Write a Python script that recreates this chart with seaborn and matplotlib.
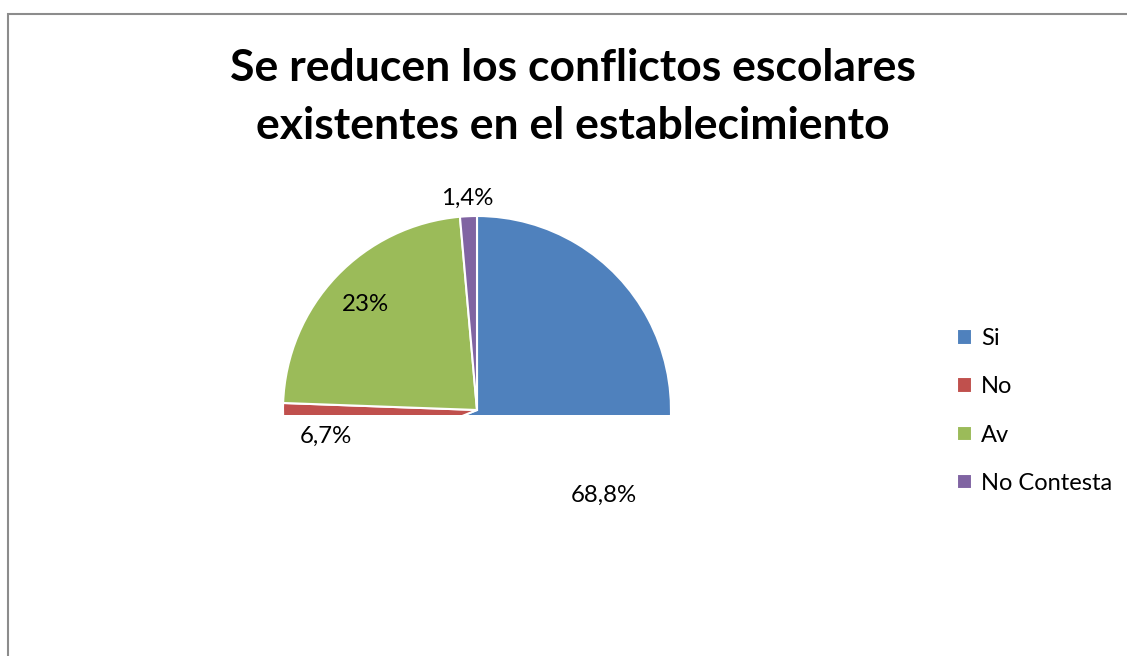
import numpy as np
import matplotlib
matplotlib.use("Agg")
import matplotlib.pyplot as plt
import seaborn as sns

# chart data
TITLE = "Se reducen los conflictos escolares\nexistentes en el establecimiento"
categories = ["Si", "No", "Av", "No Contesta"]
values = [68.8, 6.7, 23, 1.4]
colors = ["#4F81BD", "#C0504D", "#9BBB59", "#8064A2"]

W, H = 1127, 656


def fmt_pct(v):
    # spanish decimal comma
    return f"{v:g}".replace(".", ",") + "%"


def main():
    sns.set_style("white")
    plt.rcParams["font.family"] = ["Lato", "DejaVu Sans"]
    plt.rcParams["text.color"] = "black"

    fig = plt.figure(figsize=(W / 100, H / 100), dpi=100)
    fig.patch.set_facecolor("white")

    # pie centre (477, 410) px, radius 194 px, lower half hidden below y=415 px
    r_px, cx, cy, clip_y = 194, 477, 410, 415
    x0, x1, y1 = -1.02, 1.02, 1.02
    y0 = -(clip_y - cy) / r_px
    left = (cx + x0 * r_px) / W
    bottom = 1 - clip_y / H
    ax = fig.add_axes([left, bottom, (x1 - x0) * r_px / W, (y1 - y0) * r_px / H])

    palette = sns.color_palette(colors)
    wedges, _ = ax.pie(
        values,
        colors=palette,
        startangle=90,
        counterclock=False,
        radius=1,
        wedgeprops=dict(edgecolor="white", linewidth=1.5),
    )
    ax.set_xlim(x0, x1)
    ax.set_ylim(y0, y1)
    ax.set_aspect("auto")
    ax.axis("off")
    # the lower half of the pie is cut off by the plot area
    for w in wedges:
        w.set_clip_on(True)
        w.set_clip_path(ax.patch)

    # data labels (the small slice sits outside the pie)
    for w, v in zip(wedges, values):
        mid = np.deg2rad((w.theta1 + w.theta2) / 2)
        dist = 1.09 if v < 5 and np.sin(mid) > 0.5 else 0.79
        ax.text(
            dist * np.cos(mid),
            dist * np.sin(mid),
            fmt_pct(v),
            ha="center",
            va="center",
            fontsize=17.3,
            color="black",
            clip_on=False,
        )

    # title
    fig.text(573 / W, 1 - 97 / H, TITLE, ha="center", va="center",
             fontsize=32, fontweight="bold", linespacing=1.55, color="black")

    # legend
    leg = fig.legend(
        wedges,
        categories,
        loc="center left",
        bbox_to_anchor=(936 / W, 1 - 411 / H),
        frameon=False,
        fontsize=17,
        handlelength=0.62,
        handleheight=0.62,
        handletextpad=0.4,
        labelspacing=1.15,
    )
    for t in leg.get_texts():
        t.set_color("black")

    # chart border (cropped on the right and bottom)
    fig.add_artist(plt.Rectangle((8 / W, -0.1), 1.2, (1 - 14 / H) + 0.1,
                                 transform=fig.transFigure, fill=False,
                                 edgecolor="#8c8c8c", linewidth=1.5))

    fig.savefig("out.png", dpi=100)


if __name__ == "__main__":
    main()
